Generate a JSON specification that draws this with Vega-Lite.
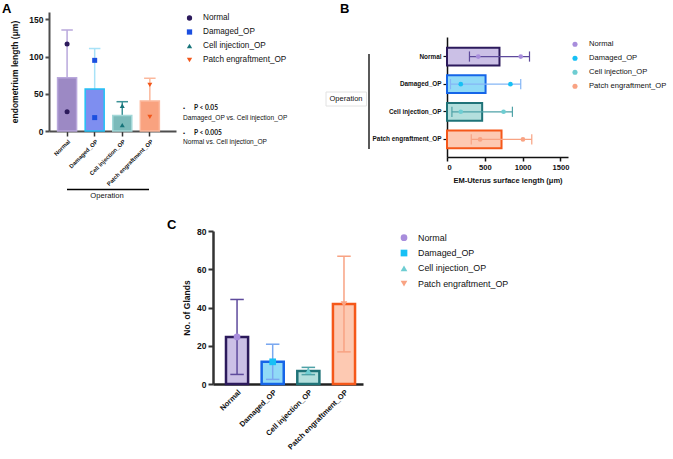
{
  "$schema": "https://vega.github.io/schema/vega-lite/v6.json",
  "width": 673,
  "height": 459,
  "autosize": "none",
  "padding": 0,
  "background": "white",
  "config": {
    "view": {"stroke": null},
    "font": "Liberation Sans",
    "axis": {"grid": false, "labelColor": "#111", "titleColor": "#111", "labelFont": "Liberation Sans", "titleFont": "Liberation Sans"}
  },
  "datasets": {
    "lengthBars": [
      {"group": "Normal", "mean": 71.5, "lo": 7.2, "hi": 135.8},
      {"group": "Damaged_OP", "mean": 56.5, "lo": 2.1, "hi": 110.9},
      {"group": "Cell injection_OP", "mean": 21, "lo": 2.6, "hi": 39.4},
      {"group": "Patch engraftment_OP", "mean": 40.5, "lo": 10.1, "hi": 70.9}
    ],
    "lengthPoints": [
      {"group": "Normal", "value": 117},
      {"group": "Normal", "value": 26},
      {"group": "Damaged_OP", "value": 95},
      {"group": "Damaged_OP", "value": 18},
      {"group": "Cell injection_OP", "value": 34},
      {"group": "Cell injection_OP", "value": 8},
      {"group": "Patch engraftment_OP", "value": 62},
      {"group": "Patch engraftment_OP", "value": 19}
    ],
    "surfaceBars": [
      {"group": "Normal", "mean": 694, "lo": 297, "hi": 1091},
      {"group": "Damaged_OP", "mean": 510, "lo": 46, "hi": 975},
      {"group": "Cell injection_OP", "mean": 465, "lo": 65, "hi": 865},
      {"group": "Patch engraftment_OP", "mean": 721, "lo": 321, "hi": 1121}
    ],
    "surfacePoints": [
      {"group": "Normal", "value": 413},
      {"group": "Normal", "value": 975},
      {"group": "Damaged_OP", "value": 182},
      {"group": "Damaged_OP", "value": 839},
      {"group": "Cell injection_OP", "value": 182},
      {"group": "Cell injection_OP", "value": 748},
      {"group": "Patch engraftment_OP", "value": 438},
      {"group": "Patch engraftment_OP", "value": 1004}
    ],
    "glands": [
      {"group": "Normal", "mean": 24.6, "lo": 5, "hi": 44.2},
      {"group": "Damaged_OP", "mean": 11.6, "lo": 2.4, "hi": 20.8},
      {"group": "Cell injection_OP", "mean": 6.8, "lo": 4.9, "hi": 8.7},
      {"group": "Patch engraftment_OP", "mean": 41.8, "lo": 16.8, "hi": 66.8}
    ],
    "single": [{}]
  },
  "layer": [
    {
      "resolve": {"scale": {"stroke": "independent"}},
      "layer": [
        {
          "data": {"name": "lengthBars"},
          "mark": {"type": "rule", "strokeWidth": 1.5},
          "encoding": {
            "x": {"field": "group", "type": "nominal",
              "scale": {"domain": ["Normal", "Damaged_OP", "Cell injection_OP", "Patch engraftment_OP"], "range": [49, 176], "paddingInner": 0.31, "paddingOuter": 0.457, "align": 0.34},
              "axis": {"orient": "bottom", "offset": -328, "title": null, "labelAngle": -45, "labelFontSize": 5.8, "labelFontWeight": "bold", "labelPadding": 2, "domainColor": "#4d4d4d", "domainWidth": 2, "tickColor": "#333", "tickWidth": 1.5, "tickSize": 5}},
            "y": {"field": "lo", "type": "quantitative",
              "scale": {"domain": [0, 150], "range": [131, 12]},
              "axis": {"orient": "left", "offset": -49, "values": [0, 50, 100, 150], "title": "endometrium length (μm)", "titleFontSize": 8.5, "titleFontWeight": "bold", "titlePadding": 9, "labelFontSize": 8.5, "labelFontWeight": "bold", "labelPadding": 2, "domainColor": "#4d4d4d", "domainWidth": 2, "tickColor": "#4d4d4d", "tickWidth": 2, "tickSize": 4}},
            "y2": {"field": "hi"},
            "stroke": {"field": "group", "type": "nominal", "legend": null,
              "scale": {"domain": ["Normal", "Damaged_OP", "Cell injection_OP", "Patch engraftment_OP"], "range": ["#b9a8dc", "#a8e2f7", "#3d9398", "#fbb89c"]}}
          }
        },
        {
          "data": {"name": "lengthBars"},
          "mark": {"type": "tick", "thickness": 0.01, "size": 10, "strokeWidth": 1.5, "fillOpacity": 0},
          "encoding": {
            "x": {"field": "group", "type": "nominal"},
            "y": {"field": "hi", "type": "quantitative"},
            "stroke": {"field": "group", "type": "nominal", "legend": null,
              "scale": {"domain": ["Normal", "Damaged_OP", "Cell injection_OP", "Patch engraftment_OP"], "range": ["#b9a8dc", "#a8e2f7", "#3d9398", "#fbb89c"]}}
          }
        },
        {
          "data": {"name": "lengthBars"},
          "mark": {"type": "bar", "strokeWidth": 1.5},
          "encoding": {
            "x": {"field": "group", "type": "nominal"},
            "y": {"field": "mean", "type": "quantitative"},
            "fill": {"field": "group", "type": "nominal", "legend": null,
              "scale": {"domain": ["Normal", "Damaged_OP", "Cell injection_OP", "Patch engraftment_OP"], "range": ["#9c89c4", "#7e8ef0", "#7bbaba", "#f9a27f"]}},
            "stroke": {"field": "group", "type": "nominal", "legend": null,
              "scale": {"domain": ["Normal", "Damaged_OP", "Cell injection_OP", "Patch engraftment_OP"], "range": ["#b9a8dc", "#22c1f5", "#a3d8d8", "#fcb99e"]}}
          }
        },
        {
          "data": {"name": "lengthPoints"},
          "mark": {"type": "point", "filled": true, "opacity": 1, "size": 25},
          "encoding": {
            "x": {"field": "group", "type": "nominal"},
            "y": {"field": "value", "type": "quantitative"},
            "color": {"field": "group", "type": "nominal", "legend": null,
              "scale": {"domain": ["Normal", "Damaged_OP", "Cell injection_OP", "Patch engraftment_OP"], "range": ["#2c1a5c", "#1b4fe0", "#17747a", "#f2571b"]}},
            "shape": {"field": "group", "type": "nominal", "legend": null,
              "scale": {"domain": ["Normal", "Damaged_OP", "Cell injection_OP", "Patch engraftment_OP"], "range": ["circle", "square", "triangle-up", "triangle-down"]}}
          }
        }
      ]
    },
    {
      "data": {"name": "lengthBars"},
      "encoding": {
        "y": {"field": "group", "type": "nominal", "axis": null,
          "scale": {"type": "point", "domain": ["Normal", "Damaged_OP", "Cell injection_OP", "Patch engraftment_OP"], "range": [18, 60], "padding": 0}}
      },
      "layer": [
        {
          "mark": {"type": "point", "filled": true, "opacity": 1, "size": 28},
          "encoding": {
            "x": {"value": 189.5},
            "color": {"field": "group", "type": "nominal", "legend": null,
              "scale": {"domain": ["Normal", "Damaged_OP", "Cell injection_OP", "Patch engraftment_OP"], "range": ["#2c1a5c", "#1b4fe0", "#17747a", "#f2571b"]}},
            "shape": {"field": "group", "type": "nominal", "legend": null,
              "scale": {"domain": ["Normal", "Damaged_OP", "Cell injection_OP", "Patch engraftment_OP"], "range": ["circle", "square", "triangle-up", "triangle-down"]}}
          }
        },
        {
          "mark": {"type": "text", "align": "left", "baseline": "middle", "fontSize": 8.2, "color": "#111"},
          "encoding": {"x": {"value": 203}, "text": {"field": "group"}}
        }
      ]
    },
    {
      "resolve": {"scale": {"stroke": "independent"}},
      "layer": [
        {
          "data": {"name": "surfaceBars"},
          "mark": {"type": "bar", "strokeWidth": 2},
          "encoding": {
            "y": {"field": "group", "type": "nominal",
              "scale": {"domain": ["Normal", "Damaged_OP", "Cell injection_OP", "Patch engraftment_OP"], "range": [37, 157], "paddingInner": 0.356, "paddingOuter": 0.35, "align": 0.55},
              "axis": {"orient": "left", "offset": -447, "title": null, "labelFontSize": 6.4, "labelFontWeight": "bold", "labelPadding": 2, "tickSize": 4, "domainColor": "#111", "domainWidth": 1.5, "tickColor": "#111", "tickWidth": 1.2}},
            "x": {"field": "mean", "type": "quantitative",
              "scale": {"domain": [0, 1500], "range": [447, 568]},
              "axis": {"orient": "bottom", "offset": -302, "values": [0, 500, 1000, 1500], "format": "d", "title": "EM-Uterus surface length (μm)", "titleFontSize": 7.5, "titleFontWeight": "bold", "titlePadding": 6, "labelFontSize": 7.6, "labelFontWeight": "bold", "labelPadding": 2, "domainColor": "#111", "domainWidth": 1.5, "tickColor": "#111", "tickWidth": 1.5, "tickSize": 4}},
            "fill": {"field": "group", "type": "nominal", "legend": null,
              "scale": {"domain": ["Normal", "Damaged_OP", "Cell injection_OP", "Patch engraftment_OP"], "range": ["#cbc0e6", "#90daf7", "#b3dfdd", "#fdc9b2"]}},
            "stroke": {"field": "group", "type": "nominal", "legend": null,
              "scale": {"domain": ["Normal", "Damaged_OP", "Cell injection_OP", "Patch engraftment_OP"], "range": ["#2c1a5c", "#1565e8", "#1f7378", "#f5581a"]}}
          }
        },
        {
          "data": {"name": "surfaceBars"},
          "mark": {"type": "rule", "strokeWidth": 1.2},
          "encoding": {
            "y": {"field": "group", "type": "nominal"},
            "x": {"field": "lo", "type": "quantitative"},
            "x2": {"field": "hi"},
            "stroke": {"field": "group", "type": "nominal", "legend": null,
              "scale": {"domain": ["Normal", "Damaged_OP", "Cell injection_OP", "Patch engraftment_OP"], "range": ["#5e4a9c", "#85b6f5", "#4fa2a7", "#f8a383"]}}
          }
        },
        {
          "data": {"name": "surfaceBars"},
          "mark": {"type": "tick", "thickness": 0.01, "size": 9, "strokeWidth": 1.2, "fillOpacity": 0},
          "encoding": {
            "y": {"field": "group", "type": "nominal"},
            "x": {"field": "lo", "type": "quantitative"},
            "stroke": {"field": "group", "type": "nominal", "legend": null,
              "scale": {"domain": ["Normal", "Damaged_OP", "Cell injection_OP", "Patch engraftment_OP"], "range": ["#5e4a9c", "#85b6f5", "#4fa2a7", "#f8a383"]}}
          }
        },
        {
          "data": {"name": "surfaceBars"},
          "mark": {"type": "tick", "thickness": 0.01, "size": 9, "strokeWidth": 1.2, "fillOpacity": 0},
          "encoding": {
            "y": {"field": "group", "type": "nominal"},
            "x": {"field": "hi", "type": "quantitative"},
            "stroke": {"field": "group", "type": "nominal", "legend": null,
              "scale": {"domain": ["Normal", "Damaged_OP", "Cell injection_OP", "Patch engraftment_OP"], "range": ["#5e4a9c", "#85b6f5", "#4fa2a7", "#f8a383"]}}
          }
        },
        {
          "data": {"name": "surfacePoints"},
          "mark": {"type": "point", "filled": true, "opacity": 1, "size": 22, "shape": "circle"},
          "encoding": {
            "y": {"field": "group", "type": "nominal"},
            "x": {"field": "value", "type": "quantitative"},
            "color": {"field": "group", "type": "nominal", "legend": null,
              "scale": {"domain": ["Normal", "Damaged_OP", "Cell injection_OP", "Patch engraftment_OP"], "range": ["#a88ddc", "#17c0f5", "#6ecdd2", "#f9a383"]}}
          }
        }
      ]
    },
    {
      "data": {"name": "surfaceBars"},
      "encoding": {
        "y": {"field": "group", "type": "nominal", "axis": null,
          "scale": {"type": "point", "domain": ["Normal", "Damaged_OP", "Cell injection_OP", "Patch engraftment_OP"], "range": [44.3, 86.3], "padding": 0}}
      },
      "layer": [
        {
          "mark": {"type": "point", "filled": true, "opacity": 1, "size": 26, "shape": "circle"},
          "encoding": {
            "x": {"value": 575},
            "color": {"field": "group", "type": "nominal", "legend": null,
              "scale": {"domain": ["Normal", "Damaged_OP", "Cell injection_OP", "Patch engraftment_OP"], "range": ["#a88ddc", "#17c0f5", "#6ecdd2", "#f9a383"]}}
          }
        },
        {
          "mark": {"type": "text", "align": "left", "baseline": "middle", "fontSize": 7.6, "color": "#111"},
          "encoding": {"x": {"value": 589}, "text": {"field": "group"}}
        }
      ]
    },
    {
      "resolve": {"scale": {"stroke": "independent"}},
      "layer": [
        {
          "data": {"name": "glands"},
          "mark": {"type": "bar", "strokeWidth": 2.5},
          "encoding": {
            "x": {"field": "group", "type": "nominal",
              "scale": {"domain": ["Normal", "Damaged_OP", "Cell injection_OP", "Patch engraftment_OP"], "range": [213, 363], "paddingInner": 0.38, "paddingOuter": 0.294, "align": 0.62},
              "axis": {"orient": "bottom", "offset": -75, "title": null, "labelAngle": -45, "labelFontSize": 7.5, "labelFontWeight": "bold", "labelPadding": 4, "ticks": false, "domainColor": "#222", "domainWidth": 2.5}},
            "y": {"field": "mean", "type": "quantitative",
              "scale": {"domain": [0, 80], "range": [384, 231]},
              "axis": {"orient": "left", "offset": -213, "values": [0, 20, 40, 60, 80], "title": "No. of Glands", "titleFontSize": 8.5, "titleFontWeight": "bold", "titlePadding": 5, "labelFontSize": 8.5, "labelFontWeight": "bold", "labelPadding": 2, "domainColor": "#333", "domainWidth": 2.5, "tickColor": "#333", "tickWidth": 2, "tickSize": 5}},
            "fill": {"field": "group", "type": "nominal", "legend": null,
              "scale": {"domain": ["Normal", "Damaged_OP", "Cell injection_OP", "Patch engraftment_OP"], "range": ["#cbc0e6", "#90daf7", "#b3dfdd", "#fdc9b2"]}},
            "stroke": {"field": "group", "type": "nominal", "legend": null,
              "scale": {"domain": ["Normal", "Damaged_OP", "Cell injection_OP", "Patch engraftment_OP"], "range": ["#2c1a5c", "#1565e8", "#1f7378", "#f5581a"]}}
          }
        },
        {
          "data": {"name": "glands"},
          "mark": {"type": "rule", "strokeWidth": 1.5},
          "encoding": {
            "x": {"field": "group", "type": "nominal"},
            "y": {"field": "lo", "type": "quantitative"},
            "y2": {"field": "hi"},
            "stroke": {"field": "group", "type": "nominal", "legend": null,
              "scale": {"domain": ["Normal", "Damaged_OP", "Cell injection_OP", "Patch engraftment_OP"], "range": ["#5e4a9c", "#7aa8f0", "#4fa2a7", "#f8a383"]}}
          }
        },
        {
          "data": {"name": "glands"},
          "mark": {"type": "tick", "thickness": 0.01, "size": 12, "strokeWidth": 1.5, "fillOpacity": 0},
          "encoding": {
            "x": {"field": "group", "type": "nominal"},
            "y": {"field": "lo", "type": "quantitative"},
            "stroke": {"field": "group", "type": "nominal", "legend": null,
              "scale": {"domain": ["Normal", "Damaged_OP", "Cell injection_OP", "Patch engraftment_OP"], "range": ["#5e4a9c", "#7aa8f0", "#4fa2a7", "#f8a383"]}}
          }
        },
        {
          "data": {"name": "glands"},
          "mark": {"type": "tick", "thickness": 0.01, "size": 12, "strokeWidth": 1.5, "fillOpacity": 0},
          "encoding": {
            "x": {"field": "group", "type": "nominal"},
            "y": {"field": "hi", "type": "quantitative"},
            "stroke": {"field": "group", "type": "nominal", "legend": null,
              "scale": {"domain": ["Normal", "Damaged_OP", "Cell injection_OP", "Patch engraftment_OP"], "range": ["#5e4a9c", "#7aa8f0", "#4fa2a7", "#f8a383"]}}
          }
        },
        {
          "data": {"name": "glands"},
          "mark": {"type": "point", "filled": true, "opacity": 1, "size": 45},
          "encoding": {
            "x": {"field": "group", "type": "nominal"},
            "y": {"field": "mean", "type": "quantitative"},
            "color": {"field": "group", "type": "nominal", "legend": null,
              "scale": {"domain": ["Normal", "Damaged_OP", "Cell injection_OP", "Patch engraftment_OP"], "range": ["#a88ddc", "#17c0f5", "#6ecdd2", "#f9a383"]}},
            "shape": {"field": "group", "type": "nominal", "legend": null,
              "scale": {"domain": ["Normal", "Damaged_OP", "Cell injection_OP", "Patch engraftment_OP"], "range": ["circle", "square", "triangle-up", "triangle-down"]}}
          }
        }
      ]
    },
    {
      "data": {"name": "glands"},
      "encoding": {
        "y": {"field": "group", "type": "nominal", "axis": null,
          "scale": {"type": "point", "domain": ["Normal", "Damaged_OP", "Cell injection_OP", "Patch engraftment_OP"], "range": [237.7, 283.7], "padding": 0}}
      },
      "layer": [
        {
          "mark": {"type": "point", "filled": true, "opacity": 1, "size": 45},
          "encoding": {
            "x": {"value": 404},
            "color": {"field": "group", "type": "nominal", "legend": null,
              "scale": {"domain": ["Normal", "Damaged_OP", "Cell injection_OP", "Patch engraftment_OP"], "range": ["#a88ddc", "#17c0f5", "#6ecdd2", "#f9a383"]}},
            "shape": {"field": "group", "type": "nominal", "legend": null,
              "scale": {"domain": ["Normal", "Damaged_OP", "Cell injection_OP", "Patch engraftment_OP"], "range": ["circle", "square", "triangle-up", "triangle-down"]}}
          }
        },
        {
          "mark": {"type": "text", "align": "left", "baseline": "middle", "fontSize": 8.9, "color": "#111"},
          "encoding": {"x": {"value": 418}, "text": {"field": "group"}}
        }
      ]
    },
    {
      "data": {"name": "single"},
      "layer": [
        {"mark": {"type": "text", "text": "A", "fontSize": 13, "fontWeight": "bold", "align": "left", "baseline": "alphabetic", "color": "#000"},
         "encoding": {"x": {"value": 2}, "y": {"value": 13}}},
        {"mark": {"type": "text", "text": "B", "fontSize": 13, "fontWeight": "bold", "align": "left", "baseline": "alphabetic", "color": "#000"},
         "encoding": {"x": {"value": 340}, "y": {"value": 12.5}}},
        {"mark": {"type": "text", "text": "C", "fontSize": 13, "fontWeight": "bold", "align": "left", "baseline": "alphabetic", "color": "#000"},
         "encoding": {"x": {"value": 167}, "y": {"value": 229}}},
        {"mark": {"type": "rule", "strokeWidth": 1.3, "color": "#000"},
         "encoding": {"x": {"value": 67}, "x2": {"value": 149}, "y": {"value": 189.5}}},
        {"mark": {"type": "text", "text": "Operation", "fontSize": 7.6, "align": "center", "baseline": "middle", "color": "#111"},
         "encoding": {"x": {"value": 107}, "y": {"value": 195.5}}},
        {"mark": {"type": "text", "text": "•", "fontSize": 6, "align": "left", "baseline": "middle", "color": "#111"},
         "encoding": {"x": {"value": 183}, "y": {"value": 108}}},
        {"mark": {"type": "text", "text": "P < 0.05", "font": "Lato", "fontSize": 6.6, "fontWeight": "bold", "align": "left", "baseline": "middle", "color": "#111"},
         "encoding": {"x": {"value": 194}, "y": {"value": 108}}},
        {"mark": {"type": "text", "text": "Damaged_OP vs. Cell injection_OP", "fontSize": 6.6, "align": "left", "baseline": "middle", "color": "#111"},
         "encoding": {"x": {"value": 183}, "y": {"value": 118}}},
        {"mark": {"type": "text", "text": "•", "fontSize": 6, "align": "left", "baseline": "middle", "color": "#111"},
         "encoding": {"x": {"value": 183}, "y": {"value": 133}}},
        {"mark": {"type": "text", "text": "P < 0.005", "font": "Lato", "fontSize": 6.6, "fontWeight": "bold", "align": "left", "baseline": "middle", "color": "#111"},
         "encoding": {"x": {"value": 194}, "y": {"value": 133}}},
        {"mark": {"type": "text", "text": "Normal vs. Cell injection_OP", "fontSize": 6.6, "align": "left", "baseline": "middle", "color": "#111"},
         "encoding": {"x": {"value": 183}, "y": {"value": 141.5}}},
        {"mark": {"type": "rule", "strokeWidth": 1.3, "color": "#000"},
         "encoding": {"x": {"value": 369}, "y": {"value": 54}, "y2": {"value": 149}}},
        {"mark": {"type": "rect", "fill": "white", "stroke": "#e2e2e2", "strokeWidth": 1},
         "encoding": {"x": {"value": 326}, "x2": {"value": 366.5}, "y": {"value": 92}, "y2": {"value": 106}}},
        {"mark": {"type": "text", "text": "Operation", "fontSize": 7.5, "align": "center", "baseline": "middle", "color": "#111"},
         "encoding": {"x": {"value": 346}, "y": {"value": 99}}}
      ]
    }
  ],
  "resolve": {
    "scale": {"x": "independent", "y": "independent", "color": "independent", "fill": "independent", "stroke": "independent", "shape": "independent"},
    "axis": {"x": "independent", "y": "independent"}
  }
}
